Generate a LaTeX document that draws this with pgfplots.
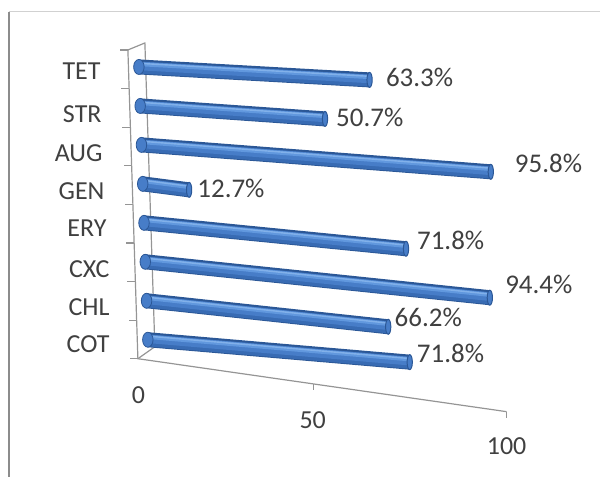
\documentclass[border=0pt]{standalone}
\usepackage{pgfplots}
\pgfplotsset{compat=1.18}
\usepackage{pgfplotstable}
\usepackage{fontspec}
\setmainfont{Carlito}
\definecolor{bdark}{HTML}{2B5796}
\definecolor{blow}{HTML}{386BB3}
\definecolor{bmid}{HTML}{477DC8}
\definecolor{bhi}{HTML}{6198DE}
\definecolor{bhi2}{HTML}{82B1EA}
\definecolor{txt}{HTML}{404040}
\definecolor{axgray}{HTML}{959595}
\pgfdeclarelayer{bg}
\pgfsetlayers{bg,main}

% y = category position, x = value, v = perspective tilt of the bar, dx/dy = label offset (pt)
\pgfplotstableread{
cat y x v dx dy
COT 0.5 71.8 -0.038 3.35 4.5
CHL 1.5 66.2 -0.172 3.0 4.75
CXC 2.5 94.4 -0.215 7.5 6.5
ERY 3.5 71.8 -0.128 5.3 4.25
GEN 4.5 12.7 -0.059 3.9 0.5
AUG 5.5 95.8 0.026 11.85 4.0
STR 6.5 50.7 0.046 5.35 0.75
TET 7.5 63.3 0.141 8.0 1.25
}\data

\begin{document}
\begin{tikzpicture}[font=\fontsize{13}{15}\selectfont]
\begin{axis}[
  x={(1.825pt,-0.146pt)}, y={(-0.64pt,19.5pt)},
  xmin=0, xmax=100, ymin=0, ymax=8,
  hide axis, clip=false,
  /pgf/number format/assume math mode=true,
]
% left rounded ends
\addplot[only marks, mark=*, mark size=3.75pt,
  mark options={fill=bmid, draw=bdark, line width=0.4pt, xscale=0.7}]
  table[x expr=0, y=y]{\data};
% cylinder layers (each bar runs from 0 to its value)
\addplot[quiver={u=\thisrow{x}, v=\thisrow{v}}, bdark, line width=7.5pt, line cap=butt]
  table[x expr=0, y=y]{\data};
\addplot[quiver={u=\thisrow{x}, v=\thisrow{v}}, blow, line width=6.0pt, line cap=butt, yshift=-0.3pt]
  table[x expr=0, y=y]{\data};
\addplot[quiver={u=\thisrow{x}, v=\thisrow{v}}, bmid, line width=4.3pt, line cap=butt, yshift=0.5pt]
  table[x expr=0, y=y]{\data};
\addplot[quiver={u=\thisrow{x}, v=\thisrow{v}}, bhi, line width=2.0pt, line cap=butt, yshift=1.4pt]
  table[x expr=0, y=y]{\data};
\addplot[quiver={u=\thisrow{x}, v=\thisrow{v}}, bhi2, line width=0.7pt, line cap=butt, yshift=1.8pt]
  table[x expr=0, y=y]{\data};
% right end caps and value labels
\addplot[only marks, mark=*, mark size=3.75pt,
  mark options={fill=bmid, draw=bdark, line width=0.5pt, xscale=0.35},
  point meta=x,
  visualization depends on={\thisrow{dx} \as \ldx},
  visualization depends on={\thisrow{dy} \as \ldy},
  nodes near coords={\pgfmathprintnumber[fixed,fixed zerofill,precision=1]{\pgfplotspointmeta}\%},
  every node near coord/.append style={anchor=west, inner sep=0pt,
     xshift=\ldx pt, yshift=\ldy pt, text=txt,
     font=\fontsize{13.5}{15}\selectfont},
  ] table[x=x, y expr=\thisrow{y}+\thisrow{v}]{\data};
\coordinate (O) at (axis cs:0,0);
\end{axis}

\begin{pgfonlayer}{bg}
\begin{scope}[shift={(O)}, x=0.5pt, y=-0.5pt, shift={(-148.6,-359.5)}]
  \path (0,0) rectangle (600,477);
  % frame
  \draw[line width=1.2pt, color=black!45] (9,12) -- (9,477);
  \draw[line width=0.5pt, color=black!18] (9,12) -- (600,12);
  % walls / axes
  \draw[axgray, line width=0.6pt] (128,50) -- (145,43) -- (155,347) -- (138,359);
  \draw[axgray, line width=0.6pt] (128,50) -- (138,359) -- (507,412);
  \foreach \i in {0,...,8} {
    \pgfmathsetmacro{\yy}{50+38.625*\i}
    \pgfmathsetmacro{\xx}{128+10*(\yy-50)/309}
    \draw[axgray, line width=0.6pt] (\xx,\yy) -- (\xx-8,\yy);
  }
  \draw[axgray, line width=0.6pt] (314,384.6) -- (314,390.5);
  \draw[axgray, line width=0.6pt] (507,412) -- (507,418);
  % x tick labels
  \node[text=txt] at (138.5,395) {0};
  \node[text=txt] at (313,421) {50};
  \node[text=txt] at (507,447) {100};
  % category labels
  \node[text=txt, anchor=east, inner sep=0pt] at (101,71) {TET};
  \node[text=txt, anchor=east, inner sep=0pt] at (102,114.5) {STR};
  \node[text=txt, anchor=east, inner sep=0pt] at (103,153) {AUG};
  \node[text=txt, anchor=east, inner sep=0pt] at (105,191.5) {GEN};
  \node[text=txt, anchor=east, inner sep=0pt] at (107,228.5) {ERY};
  \node[text=txt, anchor=east, inner sep=0pt] at (110,269) {CXC};
  \node[text=txt, anchor=east, inner sep=0pt] at (110,307) {CHL};
  \node[text=txt, anchor=east, inner sep=0pt] at (110,344.5) {COT};
\end{scope}
\end{pgfonlayer}
\end{tikzpicture}
\end{document}
